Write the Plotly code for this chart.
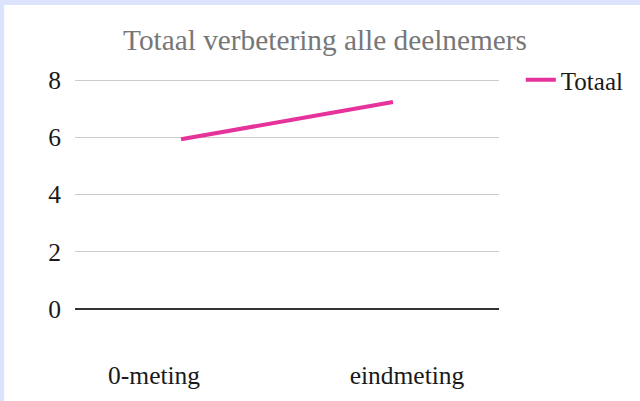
import plotly.graph_objects as go

categories = ["0-meting", "eindmeting"]
totaal = [5.93, 7.23]
y_ticks = [0, 2, 4, 6, 8]

serif = "Liberation Serif"

fig = go.Figure()
fig.add_trace(go.Scatter(
    x=[0, 1], y=totaal, mode="lines", name="Totaal",
    line=dict(color="#e6329b", width=4),
))

fig.update_layout(
    width=640, height=401,
    margin=dict(l=75, r=140, t=77, b=92),
    paper_bgcolor="#dce3fc",
    plot_bgcolor="rgba(0,0,0,0)",
    title=dict(text="Totaal verbetering alle deelnemers", x=325 / 640, xref="container",
               y=1 - 40 / 401, yref="container", xanchor="center", yanchor="middle",
               font=dict(family=serif, size=29.3, color="#777777")),
    font=dict(family=serif, size=25, color="#1a1a1a"),
    showlegend=True,
    legend=dict(x=1.049, y=(309 - 80) / 232, xanchor="left", yanchor="middle",
                font=dict(family=serif, size=25, color="#1a1a1a"),
                bgcolor="rgba(0,0,0,0)"),
    shapes=[dict(type="rect", xref="paper", yref="paper",
                 x0=(4 - 75) / 425, x1=1.4, y0=-0.45, y1=(309 - 5) / 232,
                 fillcolor="white", line=dict(width=0), layer="below")],
)
fig.update_xaxes(range=[-0.5, 1.5], tickmode="array",
                 tickvals=[-0.127, 1.066], ticktext=categories,
                 showgrid=False, zeroline=False, showline=False, ticks="",
                 ticklabelstandoff=48, tickfont=dict(family=serif, size=25.5, color="#1a1a1a"))
fig.update_yaxes(range=[0, 8.105], tickvals=y_ticks, showgrid=True, gridcolor="#cccccc",
                 gridwidth=1, zeroline=True, zerolinecolor="#333333", zerolinewidth=2,
                 ticks="", ticklabelstandoff=13,
                 tickfont=dict(family=serif, size=25.5, color="#1a1a1a"))

fig.write_html("out.html", config={"displayModeBar": False},
               post_script="document.body.style.margin='0';")
